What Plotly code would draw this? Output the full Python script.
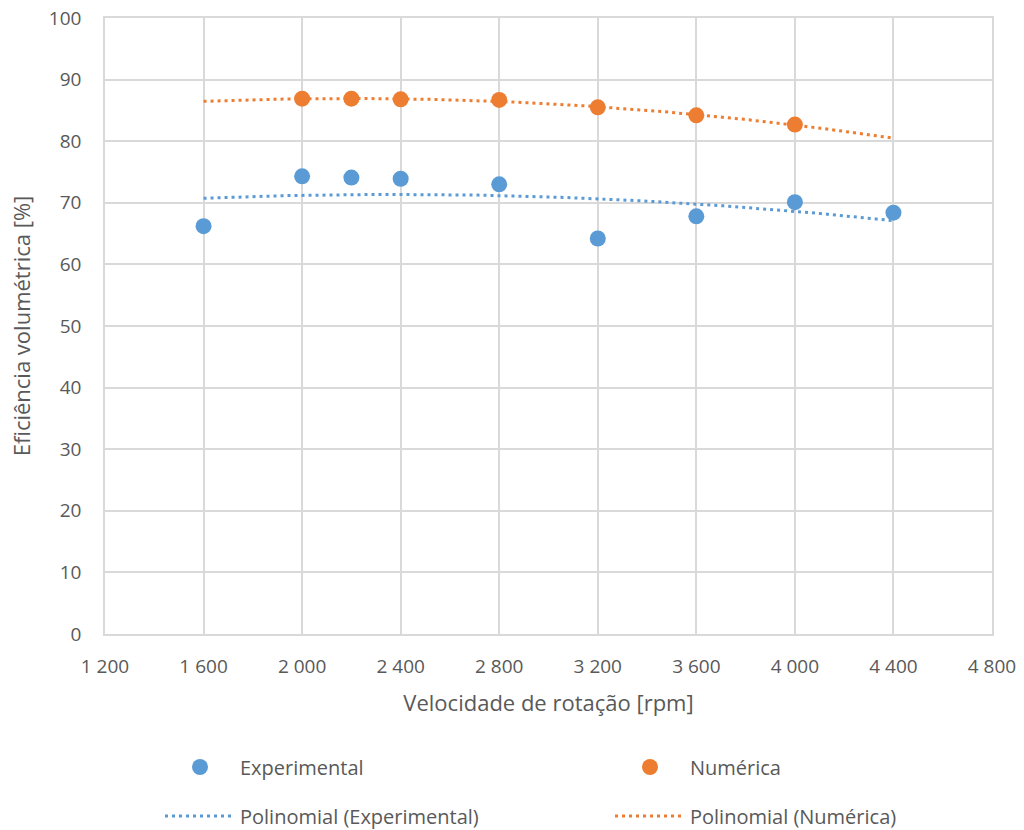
import numpy as np
import plotly.graph_objects as go

# Measured and simulated volumetric efficiency vs engine speed
rpm_exp = [1600, 2000, 2200, 2400, 2800, 3200, 3600, 4000, 4400]
eff_exp = [66.2, 74.3, 74.1, 73.9, 73.0, 64.2, 67.8, 70.1, 68.4]

rpm_num = [2000, 2200, 2400, 2800, 3200, 3600, 4000]
eff_num = [86.9, 86.9, 86.8, 86.7, 85.5, 84.2, 82.7]

x_ticks = [1200, 1600, 2000, 2400, 2800, 3200, 3600, 4000, 4400, 4800]
y_ticks = [0, 10, 20, 30, 40, 50, 60, 70, 80, 90, 100]

BLUE = "#5B9BD5"
ORANGE = "#ED7D31"
TEXT = "#595959"
GRID = "#D9D9D9"
FONT = "Open Sans"

# Second-order polynomial trendlines over the full tested speed range
trend_x = np.linspace(1600, 4400, 200)
fit_exp = np.polyval(np.polyfit(rpm_exp, eff_exp, 2), trend_x)
fit_num = np.polyval(np.polyfit(rpm_num, eff_num, 2), trend_x)

fig = go.Figure()
fig.add_trace(go.Scatter(x=rpm_exp, y=eff_exp, mode="markers",
                         marker=dict(color=BLUE, size=16),
                         name="Experimental", legend="legend"))
fig.add_trace(go.Scatter(x=rpm_num, y=eff_num, mode="markers",
                         marker=dict(color=ORANGE, size=16),
                         name="Numérica", legend="legend2"))
fig.add_trace(go.Scatter(x=trend_x, y=fit_exp, mode="lines",
                         line=dict(color=BLUE, width=3, dash="3px,4px"),
                         name="Polinomial (Experimental)", legend="legend3"))
fig.add_trace(go.Scatter(x=trend_x, y=fit_num, mode="lines",
                         line=dict(color=ORANGE, width=3, dash="3px,4px"),
                         name="Polinomial (Numérica)", legend="legend4"))


def legend_box(x_px, y_px, item_w):
    return dict(orientation="h", xref="container", yref="container",
                x=x_px / 1024, y=1 - y_px / 830,
                xanchor="left", yanchor="middle", itemwidth=item_w,
                font=dict(family=FONT, size=20, color=TEXT),
                bgcolor="rgba(0,0,0,0)")


fig.update_layout(
    width=1024, height=830,
    margin=dict(l=105, r=32, t=18, b=196, autoexpand=False),
    paper_bgcolor="white", plot_bgcolor="white",
    separators=", ",
    showlegend=True,
    font=dict(family=FONT, size=19, color=TEXT),
    xaxis=dict(range=[1200, 4800], tickvals=x_ticks, tickformat=",d",
               separatethousands=True, automargin=False,
               showgrid=True, gridcolor=GRID, gridwidth=1.5,
               showline=True, linecolor=GRID, linewidth=1.5, mirror=True,
               zeroline=False, ticks="", ticklabelstandoff=14,
               tickfont=dict(family=FONT, size=19, color=TEXT),
               title=dict(text="Velocidade de rotação [rpm]",
                          font=dict(family=FONT, size=22, color=TEXT),
                          standoff=18)),
    yaxis=dict(range=[0, 100], tickvals=y_ticks, automargin=False,
               showgrid=True, gridcolor=GRID, gridwidth=1.5,
               showline=True, linecolor=GRID, linewidth=1.5, mirror=True,
               zeroline=False, ticks="", ticklabelstandoff=18,
               tickfont=dict(family=FONT, size=19, color=TEXT),
               title=dict(text="Eficiência volumétrica [%]",
                          font=dict(family=FONT, size=22, color=TEXT),
                          standoff=12)),
    legend=legend_box(160, 767, 70),
    legend2=legend_box(610, 767, 70),
    legend3=legend_box(160, 816, 70),
    legend4=legend_box(610, 816, 70),
)

fig.write_html("out.html")
